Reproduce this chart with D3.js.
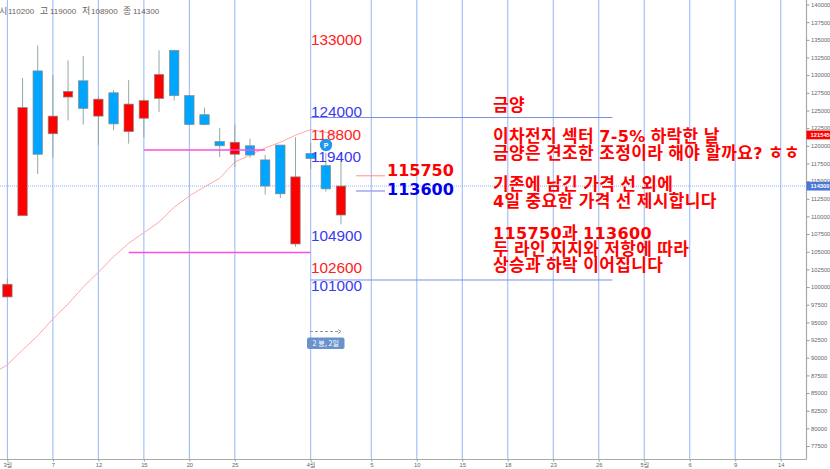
<!DOCTYPE html>
<html lang="ko"><head><meta charset="utf-8">
<script src="https://cdn.jsdelivr.net/npm/d3@7"></script>
<style>html,body{margin:0;padding:0;background:#fff;overflow:hidden}svg{display:block}</style>
</head><body><div id="c"></div>
<script>
const opens  =[98600,110100,130600,121700,126900,129200,124200,127500,122000,123900,126700,133500,127100,124400,120600,118800,120000,118000,120100,106100,118900,117200,110200];
const highs  =[101200,129600,134200,130000,132100,132700,127000,127900,129300,126600,133500,133600,127200,125400,122500,123000,121000,118700,120100,121200,120400,119000,119000];
const lows   =[98600,110100,116000,118300,123600,123000,120100,122200,120300,121200,124800,126400,122900,122900,118400,117000,118300,113100,112600,105700,116700,113500,108900];
const closes =[100400,125400,118800,124200,127700,125300,126600,123100,125900,126400,130100,127100,123000,123000,120000,120500,118700,114300,113200,115600,118200,113900,114300];
const maIndex=[-1,0,1,2,3,4,5,6,7,8,9,10,11,12,13,14,15,16,17,18,19,20,21,22];
const maVals =[87700,89000,91100,93100,95500,97600,100000,102100,104300,106200,107700,109200,111300,112900,114200,115400,117700,118700,119700,120500,121500,122300,121900,121545];
const xTickIdx=[0,3,6,9,12,15,20,24,27,30,33,36,39,42,45,48,51];
const xTickLabels=["3월","7","12","15","20","25","4월","5","10","15","18","23","26","5월","6","9","14"];
const yTicks=d3.range(77500,140001,2500);
const levels=[[119400,9,17],[104900,8,20]];
const blueLevels=[[124000,20,39.9],[101000,20,39.9]];
const priceLabels=[["133000","#ff2020",39.5],["124000","#3a3af0",111.5],["118800","#ff2020",134.5],["119400","#3a3af0",156.5],["104900","#3a3af0",235.5],["102600","#ff2020",267.5],["101000","#3a3af0",285.5]];
const textLines=[["금양",105],["이차전지 섹터 7-5% 하락한 날",136],["금양은 견조한 조정이라 해야 할까요? ㅎㅎ",153],["기존에 남긴 가격 선 외에",184],["4일 중요한 가격 선 제시합니다",201],["115750과 113600",233],["두 라인 지지와 저항에 따라",249],["상승과 하락 이어집니다",265]];
const headerParts=[["시",-1],["110200",8],["고",40],["119000",50],["저",82],["108900",91],["종",123],["114300",133]];

const W=830,H=469;
const x=d3.scaleLinear().domain([0,51]).range([7.4,780.7]);
const y=d3.scaleLinear().domain([140000,77500]).range([4.5,446]);
const svg=d3.select("#c").append("svg").attr("width",W).attr("height",H).attr("viewBox",`0 0 ${W} ${H}`);
const axisX=806.5,axisY=459.5;
svg.append("defs").append("clipPath").attr("id","plot").append("rect").attr("width",axisX).attr("height",axisY);

const plot=svg.append("g").attr("clip-path","url(#plot)");
plot.selectAll(".g").data(xTickIdx).join("line").attr("class","g")
 .attr("x1",d=>x(d)).attr("x2",d=>x(d)).attr("y1",0).attr("y2",axisY)
 .attr("stroke","#9dbdf7").attr("stroke-width",1.1);
plot.append("line").attr("x1",0).attr("x2",axisX).attr("y1",y(114300)).attr("y2",y(114300))
 .attr("stroke","#8fb0f5").attr("stroke-dasharray","1 1");
plot.append("path").datum(maIndex.map((d,i)=>[d,maVals[i]]))
 .attr("d",d3.line().x(d=>x(d[0])).y(d=>y(d[1]))).attr("fill","none").attr("stroke","#ffa8a8").attr("stroke-width",1);

const candles=plot.selectAll(".c").data(opens.map((o,i)=>({i,o,h:highs[i],l:lows[i],c:closes[i]}))).join("g");
candles.append("line").attr("x1",d=>x(d.i)).attr("x2",d=>x(d.i)).attr("y1",d=>y(d.h)).attr("y2",d=>y(d.l))
 .attr("stroke","#93a8a3").attr("stroke-width",1);
candles.append("rect").attr("x",d=>x(d.i)-4.7).attr("width",9.4)
 .attr("y",d=>y(Math.max(d.o,d.c))).attr("height",d=>Math.abs(y(d.o)-y(d.c)))
 .attr("fill",d=>d.c>=d.o?"#ff0000":"#00a5ff").attr("stroke","#8a8a8a").attr("stroke-width",.7);

plot.selectAll(".m").data(levels).join("line").attr("x1",d=>x(d[1])).attr("x2",d=>x(d[2]))
 .attr("y1",d=>y(d[0])).attr("y2",d=>y(d[0])).attr("stroke","#ff4be0").attr("stroke-width",1.4);
plot.selectAll(".b").data(blueLevels).join("line").attr("x1",d=>x(d[1])).attr("x2",d=>x(d[2]))
 .attr("y1",d=>y(d[0])).attr("y2",d=>y(d[0])).attr("stroke","#7d8fe0").attr("stroke-width",1);

plot.append("line").attr("x1",356).attr("x2",385).attr("y1",y(115750)).attr("y2",y(115750)).attr("stroke","#ff9090");
plot.append("line").attr("x1",356).attr("x2",385).attr("y1",y(113600)).attr("y2",y(113600)).attr("stroke","#9aa0f0").attr("stroke-width",1.4);

const t=svg.append("g");
t.selectAll(".p").data(priceLabels).join("text").attr("x",311).attr("y",d=>d[2]).attr("dy","0.36em")
 .attr("font-family","'Liberation Sans',sans-serif").attr("font-size",15.3).attr("fill",d=>d[1]).text(d=>d[0]);
t.append("text").attr("x",387).attr("y",170).attr("dy","0.36em").attr("font-family","'DejaVu Sans'").attr("font-weight","bold").attr("font-size",16).attr("fill","#ff0000").text("115750");
t.append("text").attr("x",387).attr("y",189).attr("dy","0.36em").attr("font-family","'DejaVu Sans'").attr("font-weight","bold").attr("font-size",16).attr("fill","#0000ee").text("113600");
const kt=t.selectAll(".k").data(textLines).join("text").attr("x",493).attr("y",d=>d[1]).attr("dy","0.36em")
 .attr("font-family","'DejaVu Sans','Noto Sans CJK KR'").attr("font-weight","bold").attr("letter-spacing",0.35).attr("fill","#ff0000");
kt.each(function(d){
  const el=d3.select(this);
  d[0].split(/([0-9%?\-]+)/).filter(s=>s.length).forEach(s=>{
    const latin=/^[0-9%?\-]+$/.test(s);
    el.append("tspan").attr("font-size",latin?16:17).attr("font-weight","bold")
      .attr("font-family",latin?"'DejaVu Sans'":"'Noto Sans CJK KR'").style("white-space","pre").text(s);
  });
});

svg.selectAll(".hd").data(headerParts).join("text").attr("x",d=>d[1]).attr("y",11).attr("dy","0.36em")
 .attr("font-family","'Liberation Sans','Noto Sans CJK KR'").attr("font-size",(d,i)=>i%2?8:9).attr("fill","#6b6257").text(d=>d[0]);

svg.append("circle").attr("cx",326).attr("cy",145).attr("r",6.2).attr("fill","#2196ef");
svg.append("text").attr("x",326).attr("y",145).attr("dy","0.36em").attr("text-anchor","middle").attr("font-family","'Liberation Sans'").attr("font-weight","bold").attr("font-size",7).attr("fill","#fff").text("P");
svg.append("line").attr("x1",310).attr("x2",340).attr("y1",331.5).attr("y2",331.5).attr("stroke","#999").attr("stroke-dasharray","3 2");
svg.append("path").attr("d","M338 329.5L341 331.5L338 333.5").attr("fill","none").attr("stroke","#999");
svg.append("rect").attr("x",307).attr("y",337.5).attr("width",37.5).attr("height",11.5).attr("rx",2).attr("fill","#6a93cc");
svg.append("text").attr("x",325.7).attr("y",343.2).attr("dy","0.36em").attr("text-anchor","middle").attr("font-family","'Noto Sans CJK KR'").attr("font-size",7).attr("fill","#fff").text("2 봉, 2일");

const ay=svg.append("g").attr("transform",`translate(${axisX},0)`)
 .call(d3.axisRight(y).tickValues(yTicks).tickFormat(d3.format("d")).tickSize(3).tickPadding(1.5));
const ax=svg.append("g").attr("transform",`translate(0,${axisY})`)
 .call(d3.axisBottom(x).tickValues(xTickIdx).tickFormat((d,i)=>xTickLabels[i]).tickSize(2).tickPadding(1));
ay.select(".domain").attr("d",`M0,0V${axisY}`);
ax.select(".domain").attr("d",`M0,0H${axisX}`);
[ax,ay].forEach(a=>{a.select(".domain").attr("stroke","#aaa").attr("stroke-width",1.2);
 a.selectAll(".tick line").attr("stroke","#999");
 a.selectAll("text").attr("font-family","'Liberation Sans','Noto Sans CJK KR'").attr("font-size",5.8).attr("fill","#666");});

function badge(v,fill,txt){
 svg.append("rect").attr("x",axisX).attr("y",y(v)-4.3).attr("width",W-axisX).attr("height",8.8).attr("fill",fill);
 svg.append("text").attr("x",axisX+4).attr("y",y(v)).attr("dy","0.36em").attr("font-family","'Liberation Sans'").attr("font-weight","bold").attr("font-size",5.8).attr("fill","#fff").text(txt);
}
badge(121545,"#ff0000","121545");
badge(114300,"#4a76d8","114300");
</script></body></html>
